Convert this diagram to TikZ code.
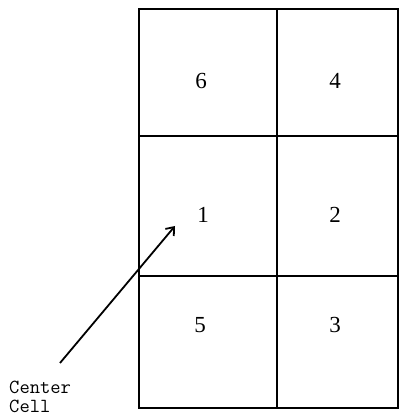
\documentclass[tikz,border=0pt]{standalone}
\usepackage{fontspec}
\setmainfont{Liberation Serif}
\usetikzlibrary{arrows.meta}
\tikzset{
  cellnum/.style={font=\fontsize{23}{23}\selectfont, inner sep=0pt},
  gridline/.style={line width=2pt},
}
\begin{document}
\begin{tikzpicture}[x=1pt, y=1pt]
    \useasboundingbox (0,0) rectangle (399,419);
    % Grid
    \draw[gridline] (139,410) rectangle (397.5,11);
    \draw[gridline] (277,410) -- (277,11);
    \draw[gridline] (139,283) -- (397.5,283);
    \draw[gridline] (139,143) -- (397.5,143);
    % Cell numbers
    \node[cellnum] (c6) at (201,338) {6};
    \node[cellnum] (c4) at (335,338) {4};
    \node[cellnum] (c1) at (203,204) {1};
    \node[cellnum] (c2) at (335,204) {2};
    \node[cellnum] (c5) at (200,94) {5};
    \node[cellnum] (c3) at (335,94) {3};
    % Label and arrow
    \node[font=\ttfamily\fontsize{20}{19}\selectfont, align=left, anchor=north west, inner sep=0pt] (lbl) at (9,38) {Center\\Cell};
    \coordinate (tail) at (60,56);
    \coordinate (head) at (175,193);
    \draw[line width=1.8pt, -{Straight Barb[length=7pt,width=11pt]}] (tail) -- (head);
\end{tikzpicture}
\end{document}
